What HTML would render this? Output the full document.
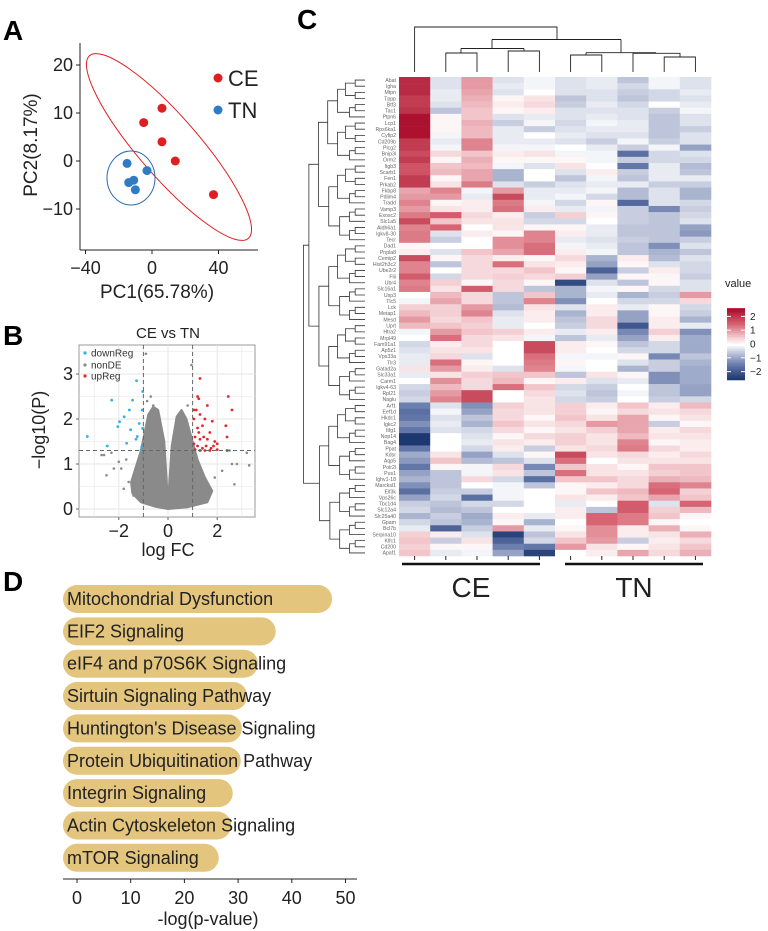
<!DOCTYPE html>
<html><head><meta charset="utf-8"><style>
html,body{margin:0;padding:0;background:#fff;}
svg{display:block;font-family:"Liberation Sans",sans-serif;}
</style></head><body>
<svg id="fig" width="768" height="931" viewBox="0 0 768 931" xmlns="http://www.w3.org/2000/svg">
<text x="3" y="40" font-size="28" font-weight="bold">A</text>
<text x="3" y="345" font-size="28" font-weight="bold">B</text>
<text x="297" y="29" font-size="28" font-weight="bold">C</text>
<text x="3" y="591" font-size="28" font-weight="bold">D</text>
<g id="pA"></g>
<g id="pB"></g>
<g id="pC"></g>
<g id="pD"></g>
</svg>
<script>
const NS="http://www.w3.org/2000/svg";
// ---------- Panel A data ----------
const pcaCE_x=[-5,6,6,14,37];
const pcaCE_y=[8,11,4,0,-7];
const pcaTN_x=[-15,-3,-11,-14,-10];
const pcaTN_y=[-0.5,-2,-4,-4.5,-6];
const pcaXTicks=[-40,0,40];
const pcaYTicks=[20,10,0,-10];
// ---------- Panel B data ----------
const volDown_fc=[-3.28,-2.47,-2.29,-2.04,-1.97,-1.78,-1.68,-1.57,-1.52,-1.44,-1.28,-1.25,-1.17,-1.03,-1.05,-1.07,-1.03,-1.1,-1.3];
const volDown_p=[1.61,1.40,2.42,1.83,1.94,2.05,1.46,2.20,1.76,2.42,2.85,1.61,1.90,2.61,2.20,1.38,1.79,1.3,1.55];
const volUp_fc=[1.3,1.2,1.25,1.05,1.15,1.6,1.05,1.3,1.5,1.8,1.2,1.4,1.7,2.35,2.45,2.6,1.1,1.3,1.6,1.9,2.0,1.05,1.2,1.4,1.55,1.75,1.85,2.4,1.1,1.3,1.5,1.7,2.0,2.4,1.25,1.45];
const volUp_p=[2.9,2.5,2.45,2.2,2.2,2.3,2.0,2.1,2.0,1.95,1.8,1.85,1.7,1.85,2.5,2.2,1.6,1.55,1.55,1.5,1.45,1.45,1.4,1.35,1.4,1.35,1.4,1.6,1.32,1.3,1.3,1.3,1.32,1.3,1.7,1.6];
const volNon_fc=[-2.7,-2.6,-2.3,-2.0,-2.5,-1.8,-1.6,-1.9,2.8,3.3,3.2,2.6,2.7,2.2,-1.7,2.5,-0.7,0.5,-0.9,0.95,-0.85,1.9,-2.2,-0.6,0.8,-1.4,1.6,-1.2,1.3];
const volNon_p=[1.2,1.2,1.25,1.05,0.75,0.45,0.6,0.9,1.0,0.97,1.25,1.0,0.55,0.85,1.1,1.3,2.5,2.1,3.45,3.2,2.4,0.7,0.9,2.3,2.3,0.3,0.4,0.85,0.9];
const volCloud_fc=[0,-0.5,-1.1,-1.45,-1.5,-1.3,-1.1,-0.95,-0.8,-0.6,-0.4,-0.15,0,0.15,0.35,0.55,0.75,0.95,1.2,1.5,1.8,1.6,0.8];
const volCloud_p=[0,0.05,0.15,0.35,0.6,0.95,1.3,1.7,2.1,2.27,2.2,1.5,0.15,1.4,2.05,2.2,2.0,1.6,1.1,0.7,0.4,0.15,0.04];
const volXTicks=[-2,0,2];
const volYTicks=[0,1,2,3];
// ---------- Panel C data ----------
const genes=["Abat","Igha","Mtpn","Tppp","Btf3","Tac1","Ptpn6","Lcp1","Rps6ka1","Cyfip2","Cd209b","Plcg2","Bnip3l","Orm2","Itgb3","Scarb1","Fen1","Prkab2","Fkbp8","Pdlim4","Tradd","Vamp3","Exosc2","Slc1a5","Aldh6a1","Igkv8-30","Tecr","Dad1","Pnpla8","Cemip2","Hist2h3c2","Ube2r2","Flii","Ubr4","Slc16a1","Usp3","Tlc5","Lck","Metap1","Mesd","Uprt","Htra2","Mrpl49","Fam91a1","Ap5z1","Vps33a","Tlr3","Gatad2a","Slc33a1","Carm1","Igkv4-63","Rpl21","Naglu","Arf1","Eef1d","Hkdc1","Igkc2","Itfg1","Nop14","Bag4","Ppat","Kdsr","Aqp5","Polr2l","Pus1","Ighv1-18","Marcksl1","Eif3k","Vps26c","Tbc1d4","Slc12a4","Slc25a40","Gpam","Bcl7b","Serpina10","Klfc1","Cd200","Apaf1"];
const heatValues=[
[2.2,-0.3,1.0,-0.3,-0.1,-0.3,-0.2,-0.6,-0.1,-0.3],
[2.2,-0.3,1.0,-0.2,-0.1,-0.3,-0.2,-0.4,-0.1,-0.3],
[2.2,-0.2,0.9,-0.3,0,-0.3,-0.3,-0.5,-0.4,-0.2],
[2.0,-0.2,0.8,0.1,0.3,-0.6,-0.3,-0.6,-0.4,-0.3],
[2.0,-0.3,0.7,0.2,0.4,-0.5,-0.2,-0.4,0,-0.2],
[2.1,-0.6,0.6,0.1,0.2,-0.3,-0.3,-0.3,-0.5,-0.1],
[2.5,0.1,0.6,-0.3,-0.2,-0.3,-0.2,-0.3,-0.6,-0.3],
[2.5,0.1,0.8,-0.5,-0.1,-0.4,-0.1,-0.2,-0.6,-0.3],
[2.5,0.1,0.7,-0.2,-0.5,-0.3,-0.2,-0.2,-0.6,-0.5],
[2.5,-0.1,0.7,-0.2,0,-0.2,-0.3,-0.3,-0.6,-0.3],
[2.0,-0.2,1.2,-0.2,-0.2,-0.3,-0.5,-0.1,-0.5,-0.3],
[2.0,-0.1,1.2,-0.1,-0.1,0,-0.2,-0.5,-0.1,-1.0],
[1.8,0.4,0.6,0.2,0.3,-0.1,-0.1,-1.6,-0.4,-0.3],
[2.0,0.1,0.8,0.1,0.1,0.1,-0.1,-0.5,-0.4,-0.4],
[1.7,0.6,0.7,-0.1,-0.3,0.3,0,-1.5,-0.2,-0.7],
[1.7,0.7,0.9,-0.8,0,-0.3,0.2,-0.5,-0.2,-0.6],
[2.0,0.1,0.9,-0.8,0,-0.6,-0.1,-0.6,-0.2,-0.2],
[2.0,0.3,1.3,-0.3,-0.5,-0.3,-0.2,-0.2,-0.5,-0.5],
[0.9,1.2,-0.1,1.0,-0.2,-0.2,-0.1,-0.7,-0.3,-0.8],
[1.0,1.0,-0.2,1.8,-0.2,-0.1,-0.4,-0.7,-0.3,-0.8],
[1.2,0.1,0.2,1.3,-0.1,-0.4,0.1,-1.7,-0.3,-0.4],
[1.0,0.3,0.2,1.4,0.2,-0.2,-0.1,-0.5,-1.3,-0.5],
[1.3,1.6,0.4,0.2,-0.5,0.5,0.1,-0.5,-0.6,-0.4],
[1.8,0.6,0.3,0.3,-0.4,-0.4,0,-0.5,-0.6,-0.3],
[1.2,1.5,0,0.3,0.1,0.1,-0.2,-0.6,-0.6,-1.0],
[1.3,-0.3,0.2,0.1,1.2,0.2,-0.2,-0.6,-0.6,-1.1],
[1.3,-0.5,0,1.1,1.2,-0.2,-0.3,-0.5,-0.6,-0.5],
[0.1,0,0,1.1,1.4,-0.1,-0.2,-0.6,-1.2,-0.3],
[0.2,-0.3,0.6,0.9,1.4,0.2,-0.1,-0.6,-0.8,-0.6],
[1.8,0.1,0.4,0.2,0.1,0.4,-0.8,0.2,-0.7,-0.3],
[1.2,-0.6,0.4,1.4,0.3,0.2,-1.0,0.1,-0.3,-0.4],
[1.2,0,0.4,0.4,0.6,0.1,-1.8,-0.5,0.2,-0.4],
[1.6,-0.4,0.4,0.5,0.4,0.5,-1.0,0.1,0.1,-0.5],
[1.2,0.5,0.1,0.4,0.1,-2.2,-0.3,-0.6,0.1,-0.3],
[1.3,0.3,1.6,0.4,-0.6,-0.8,-0.1,0.1,-0.4,-0.3],
[0,0.7,0.4,-0.6,0.6,-0.8,-0.2,-0.8,-0.5,1.0],
[-0.1,0.9,0.4,-0.6,1.2,-1.2,0,-0.4,-0.4,0.4],
[0.5,0.5,1.0,-0.7,0.3,-0.3,0.2,-0.2,0.1,-0.4],
[0.7,0.5,1.2,-0.3,0.2,-0.8,0.2,-1.0,0.1,-0.5],
[1.0,0.4,0.6,-0.2,0.2,-0.6,0.4,-1.0,0.2,-0.8],
[0.7,0.6,0.5,-0.2,0,-0.5,0.4,-2.0,0.2,-0.2],
[-0.1,1.0,0.6,0.5,0.2,-0.2,0.2,-1.3,0.5,-1.2],
[0,1.4,0.4,0.3,-0.1,-0.6,-0.2,-1.0,0.2,-0.9],
[-0.4,0.2,0.4,0,1.8,0.2,0.1,-0.6,-0.4,-0.9],
[-0.3,0.3,0.3,0,1.8,0.2,0,-0.4,-0.4,-0.9],
[-0.2,0.4,-0.3,0,1.4,-0.1,-0.1,0.1,-1.3,-0.6],
[-0.2,1.4,0.1,0,1.3,0.1,0,-0.3,-0.5,-0.8],
[0.3,1.0,0.2,-0.3,1.2,-0.1,0,-0.8,-0.5,-0.9],
[-0.2,0.3,0.5,0.6,0.6,-0.6,0.3,0.1,-1.2,-0.9],
[0,1.1,0.4,0.7,0.1,0.2,-0.3,-0.2,-1.2,-0.9],
[-0.4,0.7,0.4,1.4,0.6,-0.4,-0.5,0,-0.6,-1.0],
[-0.5,1.0,1.8,0,0.4,-0.3,-0.6,-0.1,-0.6,-1.0],
[-0.4,1.2,1.8,0,0.3,-0.4,-0.5,0,-0.5,-0.4],
[-1.4,-0.3,-1.2,0.5,0.3,0.5,0.2,0.6,0.2,0.7],
[-1.6,-0.1,-1.0,0.4,0.3,0.5,0.1,0.4,0.3,0.4],
[-1.5,-0.3,-0.6,0.4,0.1,0.6,0.3,0.9,0.1,0.3],
[-1.2,-0.2,-0.8,0.6,0.3,0.4,1.0,0.9,-0.5,0.1],
[-1.5,-0.3,-0.4,0.4,0.1,0.3,0.5,0.9,0.2,0.4],
[-2.5,0,-0.3,0.1,0.4,0.5,0.3,0.7,0.3,0.3],
[-2.5,0,-0.2,0.3,0.2,0.5,0.3,1.2,0.1,0.2],
[-1.5,0,-0.4,0.2,-0.5,0.3,0.4,1.3,0.4,0.2],
[-0.9,0.3,-1.0,-0.3,0.1,1.8,0.3,0.4,0.2,0.4],
[-1.1,0.6,-0.7,-0.6,-0.3,1.4,0,0.3,0.3,0.3],
[-1.5,0.1,-0.1,0.4,-1.3,0.6,0.3,0.1,0.6,0.6],
[-1.0,-0.6,-0.1,0.3,-0.6,1.4,0.3,0.3,0.5,0.6],
[-0.8,-0.6,0.4,-0.4,-1.6,0.6,0.6,0.4,0.8,0.7],
[-1.2,-0.6,0,-0.1,-0.6,0.1,0.2,0.4,1.4,1.2],
[-1.6,-0.5,-0.5,-0.1,0,0.1,0.6,0.7,1.5,0.5],
[-1.0,-0.4,-1.6,-0.1,0,0.3,0.2,0.6,0.9,0.6],
[-0.5,-0.6,-0.4,-0.4,0,-0.2,0,1.6,-0.3,1.5],
[-0.4,-0.7,-0.6,0,0,0.2,-0.6,1.6,0.5,0.7],
[-0.8,-0.5,-0.9,0.2,-0.2,0.2,1.5,1.3,0.6,0.1],
[-0.4,-0.6,-0.8,0.1,-0.8,0,1.5,1.3,0.1,0],
[-0.2,-1.8,-0.5,1.0,-0.2,0.1,1.1,0.2,0.8,0.1],
[0.5,0.2,-0.3,-2.3,-0.6,0.3,1.1,0.2,0.3,0.8],
[0.6,-0.5,0.3,-1.8,-0.4,0.6,1.0,-0.5,0.2,0.4],
[0.5,0.1,0.1,-1.4,-1.5,1.0,0.3,0.1,0.3,0.6],
[0.6,-0.2,-0.1,-1.0,-2.3,0,0.2,0.9,0.4,0.8]
];
const legendTicks=[2,1,0,-1,-2];
// ---------- Panel D data ----------
const pathways=["Mitochondrial Dysfunction","EIF2 Signaling","eIF4 and p70S6K Signaling","Sirtuin Signaling Pathway","Huntington's Disease Signaling","Protein Ubiquitination Pathway","Integrin Signaling","Actin Cytoskeleton Signaling","mTOR Signaling"];
const pathwayValues=[47.5,37,33.7,31.7,30.7,30.5,29,28.7,26.4];
const pathTicks=[0,10,20,30,40,50];

function el(tag,attrs,parent,text){const e=document.createElementNS(NS,tag);for(const k in attrs)e.setAttribute(k,attrs[k]);if(text!==undefined)e.textContent=text;parent.appendChild(e);return e;}

// ===== Panel A =====
(function(){
const g=document.getElementById('pA');
const sx=v=>152+v*66.5/40, sy=v=>161-v*4.8;
let a=el('line',{x1:80,y1:43,x2:80,y2:250,stroke:'#222','stroke-width':1},g);

a=el('line',{x1:80,y1:250,x2:258,y2:250,stroke:'#222','stroke-width':1},g);

pcaXTicks.forEach(v=>{el('line',{x1:sx(v),y1:250,x2:sx(v),y2:254,stroke:'#222'},g);
 const t=el('text',{x:sx(v),y:274,'font-size':18,'text-anchor':'middle',fill:'#222'},g,v<0?'\u2212'+(-v):v);
 });
pcaYTicks.forEach(v=>{el('line',{x1:76,y1:sy(v),x2:80,y2:sy(v),stroke:'#222'},g);
 const t=el('text',{x:73,y:sy(v)+6,'font-size':18,'text-anchor':'end',fill:'#222'},g,v<0?'\u2212'+(-v):v);
 });
let e=el('ellipse',{cx:169,cy:147,rx:121,ry:30,fill:'none',stroke:'#e02020','stroke-width':1,transform:'rotate(49 169 147)'},g);

e=el('ellipse',{cx:131,cy:178,rx:24,ry:27,fill:'none',stroke:'#2a6bb0','stroke-width':1},g);

pcaCE_x.forEach((x,i)=>{const c=el('circle',{cx:sx(x),cy:sy(pcaCE_y[i]),r:4.5,fill:'#e01e22'},g);
 });
pcaTN_x.forEach((x,i)=>{const c=el('circle',{cx:sx(x),cy:sy(pcaTN_y[i]),r:4.5,fill:'#2f7bc4'},g);
 });
let l=el('circle',{cx:218,cy:78,r:4.5,fill:'#e01e22'},g);
l=el('text',{x:228,y:86,'font-size':22,fill:'#222'},g,'CE');
l=el('circle',{cx:218,cy:110,r:4.5,fill:'#2f7bc4'},g);
l=el('text',{x:228,y:118,'font-size':22,fill:'#222'},g,'TN');
l=el('text',{x:157,y:298,'font-size':19,'text-anchor':'middle',fill:'#222'},g,'PC1(65.78%)');
l=el('text',{x:0,y:0,'font-size':19,'text-anchor':'middle',fill:'#222',transform:'translate(37,145) rotate(-90)'},g,'PC2(8.17%)');
})();

// ===== Panel B =====
(function(){
const g=document.getElementById('pB');
const sx=v=>168+v*24.6, sy=v=>509-v*45;
const L=79,R=255,T=345,B=517;
let r=el('rect',{x:L,y:T,width:R-L,height:B-T,fill:'#fff',stroke:'#999','stroke-width':1},g);

[-3,-2,-1,0,1,2,3].forEach(v=>el('line',{x1:sx(v),y1:T,x2:sx(v),y2:B,stroke:'#e6e6e6','stroke-width':v%2===0?1:0.6},g));
[0,0.5,1,1.5,2,2.5,3,3.5].forEach(v=>el('line',{x1:L,y1:sy(v),x2:R,y2:sy(v),stroke:'#e6e6e6','stroke-width':Number.isInteger(v)?1:0.6},g));
let pts='';volCloud_fc.forEach((f,i)=>{pts+=sx(f)+','+sy(volCloud_p[i])+' ';});
let c=el('polygon',{points:pts,fill:'#8a8a8a',stroke:'#8a8a8a','stroke-width':2,'stroke-linejoin':'round'},g);
volNon_fc.forEach((f,i)=>{const p=el('circle',{cx:sx(f),cy:sy(volNon_p[i]),r:1.3,fill:'#8a8a8a'},g);});
volDown_fc.forEach((f,i)=>{const p=el('circle',{cx:sx(f),cy:sy(volDown_p[i]),r:1.4,fill:'#35aee6'},g);});
volUp_fc.forEach((f,i)=>{const p=el('circle',{cx:sx(f),cy:sy(volUp_p[i]),r:1.4,fill:'#e8232a'},g);});
[-1,1].forEach(v=>{const d=el('line',{x1:sx(v),y1:T,x2:sx(v),y2:B,stroke:'#666','stroke-dasharray':'4,3'},g);});
let d=el('line',{x1:L,y1:sy(1.3),x2:R,y2:sy(1.3),stroke:'#666','stroke-dasharray':'4,3'},g);
volXTicks.forEach(v=>{el('line',{x1:sx(v),y1:B,x2:sx(v),y2:B+3,stroke:'#666'},g);const t=el('text',{x:sx(v),y:537,'font-size':18,'text-anchor':'middle',fill:'#222'},g,v<0?'\u2212'+(-v):v);});
volYTicks.forEach(v=>{el('line',{x1:L-3,y1:sy(v),x2:L,y2:sy(v),stroke:'#666'},g);const t=el('text',{x:73,y:sy(v)+6,'font-size':18,'text-anchor':'end',fill:'#222'},g,v);});
const leg=[['#35aee6','downReg',353],['#8a8a8a','nonDE',365],['#e8232a','upReg',376]];
leg.forEach(q=>{el('circle',{cx:85,cy:q[2],r:1.6,fill:q[0]},g);const t=el('text',{x:91,y:q[2]+3.5,'font-size':10,fill:'#333'},g,q[1]);});
let t=el('text',{x:168,y:338,'font-size':15,'text-anchor':'middle',fill:'#222'},g,'CE vs TN');
t=el('text',{x:168,y:556,'font-size':18,'text-anchor':'middle',fill:'#222'},g,'log FC');
t=el('text',{x:0,y:0,'font-size':18,'text-anchor':'middle',fill:'#222',transform:'translate(45,430) rotate(-90)'},g,'\u2212log10(P)');
})();

// ===== Panel C =====
(function(){
const g=document.getElementById('pC');
const X0=399,W=31.2,Y0=77,H=(556-77)/genes.length;
const stops=[[-2.5,[28,56,112]],[-1.5,[98,118,168]],[-0.5,[200,206,224]],[0,[255,255,255]],[0.5,[244,208,212]],[1.5,[214,100,114]],[2.5,[172,18,48]]];
function col(v){if(v<=stops[0][0])return 'rgb('+stops[0][1]+')';for(let i=1;i<stops.length;i++){if(v<=stops[i][0]){const a=stops[i-1],b=stops[i],t=(v-a[0])/(b[0]-a[0]);return 'rgb('+a[1].map((c,k)=>Math.round(c+(b[1][k]-c)*t)).join(',')+')';}}return 'rgb('+stops[stops.length-1][1]+')';}
heatValues.forEach((row,i)=>{row.forEach((v,j)=>{const r=el('rect',{x:X0+j*W,y:Y0+i*H,width:W+0.3,height:H+0.3,fill:col(v)},g);});
 const t=el('text',{x:396,y:Y0+(i+0.5)*H+1.8,'font-size':5.2,'text-anchor':'end',fill:'#666'},g,genes[i]);});
const dg=el('g',{stroke:'#333','stroke-width':0.8,fill:'none'},g);
function tree(a,b,depth){if(a===b)return{y:Y0+(a+0.5)*H,x:365};
 let m;if(a===0&&b===genes.length-1)m=52;else m=Math.floor((a+b)/2);
 const L=tree(a,m,depth+1),R=tree(m+1,b,depth+1);
 const n=b-a+1;const x=365-Math.min(63,Math.log2(n)*9.8);
 el('path',{d:`M${L.x},${L.y}H${x}V${R.y}H${R.x}`},dg);return{x:x,y:(L.y+R.y)/2};}
tree(0,genes.length-1,0);
const cg=el('g',{stroke:'#222','stroke-width':0.9,fill:'none'},g);
const cx=j=>X0+W*(j+0.5);
['M'+cx(0)+',72V27H557V39.5','M492,39.5H621','M492,39.5V48.5','M461,48.5H524','M'+cx(1)+',72V53H'+cx(2)+'V72','M461,53V48.5','M'+cx(3)+',72V51H'+cx(4)+'V72','M524,51V48.5','M621,39.5V52.7','M586,52.7H656','M'+cx(5)+',72V55H'+cx(6)+'V72','M586,55V52.7','M'+cx(7)+',72V53.3H680V57','M656,52.7V53.3','M'+cx(8)+',72V57H'+cx(9)+'V72'].forEach(d=>el('path',{d:d},cg));
for(let j=0;j<10;j++)el('line',{x1:cx(j),y1:556,x2:cx(j),y2:560,stroke:'#222'},g);
let b=el('line',{x1:402,y1:564,x2:540,y2:564,stroke:'#111','stroke-width':2.5},g);
b=el('line',{x1:565,y1:564,x2:703,y2:564,stroke:'#111','stroke-width':2.5},g);
let t=el('text',{x:471,y:597,'font-size':28,'text-anchor':'middle',fill:'#222'},g,'CE');
t=el('text',{x:634,y:597,'font-size':28,'text-anchor':'middle',fill:'#222'},g,'TN');
const lg=el('g',{},g);
t=el('text',{x:725,y:287,'font-size':11,fill:'#222'},lg,'value');
const ly=v=>344-v*13.8;
for(let k=0;k<40;k++){const v=2.6-k*(5.2/40);el('rect',{x:727,y:ly(v),width:18,height:13.8*5.2/40+0.4,fill:col(v)},lg);}
legendTicks.forEach(v=>{el('line',{x1:727,y1:ly(v),x2:731,y2:ly(v),stroke:'#fff'},lg);el('line',{x1:741,y1:ly(v),x2:745,y2:ly(v),stroke:'#fff'},lg);
 const tt=el('text',{x:750,y:ly(v)+3.5,'font-size':10,fill:'#222'},lg,v<0?'\u2212'+(-v):v);});
})();

// ===== Panel D =====
(function(){
const g=document.getElementById('pD');
const sx=v=>77+v*5.37;
pathways.forEach((p,i)=>{const y=585+i*32.35;const x1=sx(pathwayValues[i]);
 const r=el('rect',{x:63,y:y,width:x1-63,height:28,rx:14,ry:14,fill:'#e3c57e'},g);
 const t=el('text',{x:67,y:y+20,'font-size':18,fill:'#222'},g,p);});
let a=el('line',{x1:63,y1:879,x2:357,y2:879,stroke:'#222'},g);
pathTicks.forEach(v=>{el('line',{x1:sx(v),y1:879,x2:sx(v),y2:883,stroke:'#222'},g);const t=el('text',{x:sx(v),y:904,'font-size':18,'text-anchor':'middle',fill:'#222'},g,v);});
let t=el('text',{x:208,y:925,'font-size':18,'text-anchor':'middle',fill:'#222'},g,'-log(p-value)');
})();
</script>
</body></html>
